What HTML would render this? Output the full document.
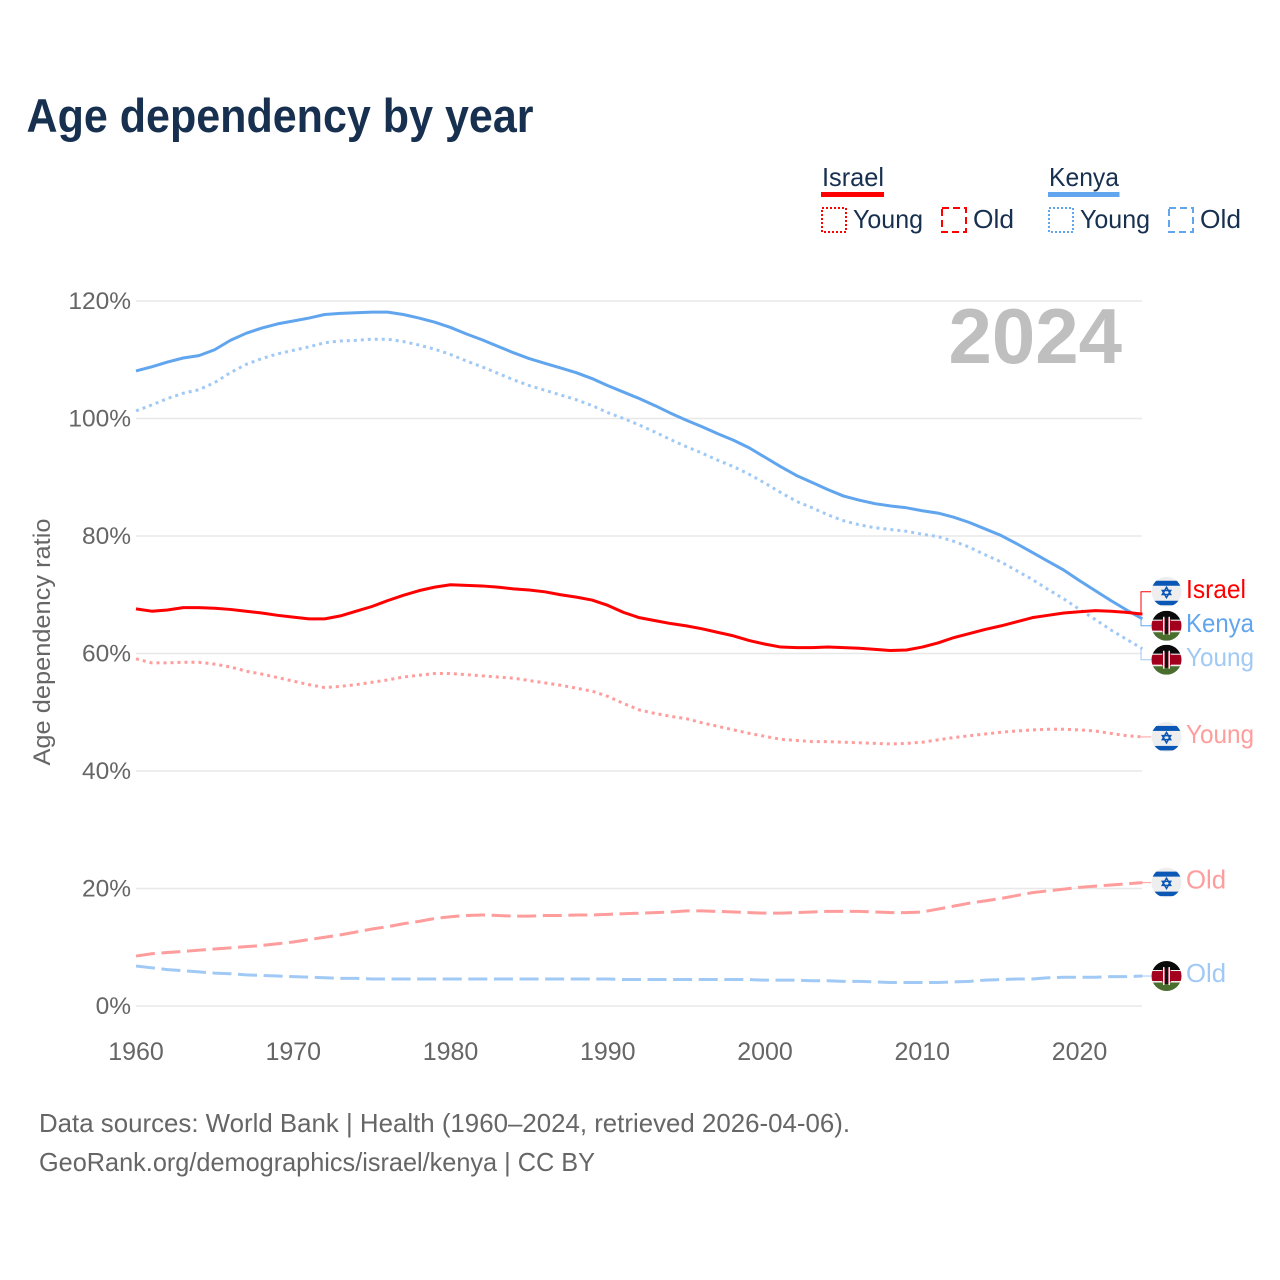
<!DOCTYPE html>
<html lang="en">
<head>
<meta charset="utf-8">
<title>Age dependency by year</title>
<style>
html,body{margin:0;padding:0;background:#fff}
svg{display:block}
text{font-family:"Liberation Sans",sans-serif}
</style>
</head>
<body>
<svg id="chart" xmlns="http://www.w3.org/2000/svg" width="1280" height="1280" viewBox="0 0 1280 1280">
  <rect width="1280" height="1280" fill="#fff"/>
  <text x="26.5" y="132" font-size="47" font-weight="700" fill="#17304f" textLength="507" lengthAdjust="spacingAndGlyphs">Age dependency by year</text>

  <g font-size="26" fill="#17304f">
    <text x="822" y="186" textLength="62" lengthAdjust="spacingAndGlyphs">Israel</text>
    <rect x="821" y="192" width="63" height="5" fill="#ff0000"/>
    <rect x="822" y="208" width="24" height="24" fill="none" stroke="#ff0000" stroke-width="2" stroke-dasharray="2 2"/>
    <text x="853" y="228" textLength="70" lengthAdjust="spacingAndGlyphs">Young</text>
    <rect x="942" y="208" width="24" height="24" fill="none" stroke="#ff0000" stroke-width="2" stroke-dasharray="7 4"/>
    <text x="973" y="228" textLength="41" lengthAdjust="spacingAndGlyphs">Old</text>

    <text x="1049" y="186" textLength="70" lengthAdjust="spacingAndGlyphs">Kenya</text>
    <rect x="1048" y="192" width="71.500" height="5" fill="#60a5ee"/>
    <rect x="1049" y="208" width="24" height="24" fill="none" stroke="#60a5ee" stroke-width="2" stroke-dasharray="2 2"/>
    <text x="1080" y="228" textLength="70" lengthAdjust="spacingAndGlyphs">Young</text>
    <rect x="1169" y="208" width="24" height="24" fill="none" stroke="#60a5ee" stroke-width="2" stroke-dasharray="7 4"/>
    <text x="1200" y="228" textLength="41" lengthAdjust="spacingAndGlyphs">Old</text>
  </g>

  <g id="grid"></g>
  <g id="y-ticks"></g>
  <g id="x-ticks"></g>

  <text x="0" y="0" transform="translate(50,642) rotate(-90)" text-anchor="middle" font-size="24" fill="#666" textLength="247" lengthAdjust="spacingAndGlyphs">Age dependency ratio</text>

  <text x="1122" y="363" text-anchor="end" font-size="78" font-weight="700" fill="#bfbfbf">2024</text>

  <g id="lines"></g>
  <g id="end-labels"></g>

  <g font-size="26" fill="#666">
    <text x="39" y="1132" textLength="811" lengthAdjust="spacingAndGlyphs">Data sources: World Bank | Health (1960–2024, retrieved 2026-04-06).</text>
    <text x="39" y="1171" textLength="556" lengthAdjust="spacingAndGlyphs">GeoRank.org/demographics/israel/kenya | CC BY</text>
  </g>
</svg>

<script>
const startYear = 1960;
const xTickYears = [1960, 1970, 1980, 1990, 2000, 2010, 2020];
const yTickValues = [0, 20, 40, 60, 80, 100, 120];
const yTickLabels = ["0%", "20%", "40%", "60%", "80%", "100%", "120%"];

const israelTotal = [
  67.6, 67.2, 67.4, 67.8, 67.8, 67.7, 67.5, 67.2, 66.9, 66.5,
  66.2, 65.9, 65.9, 66.4, 67.2, 68.0, 69.0, 69.9, 70.7, 71.3,
  71.7, 71.6, 71.5, 71.3, 71.0, 70.8, 70.5, 70.0, 69.6, 69.1,
  68.2, 67.0, 66.1, 65.6, 65.1, 64.7, 64.2, 63.6, 63.0, 62.2,
  61.6, 61.1, 61.0, 61.0, 61.1, 61.0, 60.9, 60.7, 60.5, 60.6,
  61.1, 61.8, 62.7, 63.4, 64.1, 64.7, 65.4, 66.1, 66.5, 66.9,
  67.1, 67.3, 67.2, 67.0, 66.7
];
const israelYoung = [
  59.1, 58.4, 58.4, 58.5, 58.5, 58.2, 57.7, 57.0, 56.5, 55.9,
  55.3, 54.7, 54.2, 54.4, 54.7, 55.1, 55.5, 56.0, 56.3, 56.6,
  56.6, 56.4, 56.2, 56.0, 55.8, 55.4, 55.0, 54.6, 54.1, 53.6,
  52.7, 51.5, 50.4, 49.8, 49.3, 48.9, 48.2, 47.6, 47.0, 46.4,
  45.9, 45.4, 45.2, 45.0, 45.0, 44.9, 44.8, 44.7, 44.6, 44.7,
  44.9, 45.3, 45.7, 46.0, 46.3, 46.6, 46.8, 47.0, 47.1, 47.1,
  47.0, 46.8, 46.4, 46.0, 45.8
];
const israelOld = [
  8.5, 8.9, 9.1, 9.3, 9.5, 9.7, 9.9, 10.1, 10.3, 10.6,
  10.9, 11.3, 11.7, 12.1, 12.6, 13.1, 13.5, 14.0, 14.4, 14.9,
  15.2, 15.4, 15.5, 15.4, 15.3, 15.3, 15.4, 15.4, 15.5, 15.5,
  15.6, 15.7, 15.8, 15.9, 16.0, 16.2, 16.2, 16.1, 16.0, 15.9,
  15.8, 15.8, 15.9, 16.0, 16.1, 16.1, 16.1, 16.0, 15.9, 15.9,
  16.0, 16.5, 17.0, 17.5, 17.9, 18.3, 18.8, 19.3, 19.6, 19.9,
  20.2, 20.4, 20.6, 20.8, 21.0
];
const kenyaTotal = [
  108.1, 108.8, 109.6, 110.3, 110.7, 111.7, 113.3, 114.5, 115.4, 116.1,
  116.6, 117.1, 117.7, 117.9, 118.0, 118.1, 118.1, 117.7, 117.1, 116.4,
  115.5, 114.4, 113.4, 112.3, 111.2, 110.2, 109.4, 108.6, 107.8, 106.8,
  105.6, 104.5, 103.4, 102.2, 100.9, 99.7, 98.6, 97.4, 96.3, 95.0,
  93.4, 91.8, 90.3, 89.1, 87.9, 86.8, 86.1, 85.5, 85.1, 84.8,
  84.3, 83.9, 83.2, 82.3, 81.2, 80.1, 78.7, 77.2, 75.7, 74.2,
  72.4, 70.7, 69.0, 67.4, 65.9
];
const kenyaYoung = [
  101.3, 102.3, 103.4, 104.3, 104.9, 106.1, 107.8, 109.2, 110.2, 111.0,
  111.6, 112.2, 112.9, 113.2, 113.3, 113.5, 113.5, 113.1, 112.5, 111.8,
  110.9, 109.8, 108.8, 107.7, 106.6, 105.6, 104.8, 104.0, 103.2, 102.2,
  101.0, 100.0, 98.9, 97.7, 96.4, 95.2, 94.1, 92.9, 91.8, 90.5,
  89.0, 87.4, 85.9, 84.8, 83.6, 82.6, 81.9, 81.4, 81.1, 80.8,
  80.3, 79.9, 79.1, 78.1, 76.8, 75.6, 74.1, 72.6, 70.9, 69.3,
  67.5, 65.8, 64.0, 62.4, 60.8
];
const kenyaOld = [
  6.8, 6.5, 6.2, 6.0, 5.8, 5.6, 5.5, 5.3, 5.2, 5.1,
  5.0, 4.9, 4.8, 4.7, 4.7, 4.6, 4.6, 4.6, 4.6, 4.6,
  4.6, 4.6, 4.6, 4.6, 4.6, 4.6, 4.6, 4.6, 4.6, 4.6,
  4.6, 4.5, 4.5, 4.5, 4.5, 4.5, 4.5, 4.5, 4.5, 4.5,
  4.4, 4.4, 4.4, 4.3, 4.3, 4.2, 4.2, 4.1, 4.0, 4.0,
  4.0, 4.0, 4.1, 4.2, 4.4, 4.5, 4.6, 4.6, 4.8, 4.9,
  4.9, 4.9, 5.0, 5.0, 5.1
];

const NS = "http://www.w3.org/2000/svg";
const X0 = 136, PER_YEAR = 15.725, Y0 = 1006, PER_PCT = 5.875, X_END = 1142;
const xScale = year => X0 + (year - startYear) * PER_YEAR;
const yScale = value => Y0 - value * PER_PCT;

function make(tag, attrs, parent) {
  const el = document.createElementNS(NS, tag);
  for (const k in attrs) el.setAttribute(k, attrs[k]);
  parent.appendChild(el);
  return el;
}

const grid = document.getElementById("grid");
const yTicks = document.getElementById("y-ticks");
const xTicks = document.getElementById("x-ticks");
const linesLayer = document.getElementById("lines");
const labelsLayer = document.getElementById("end-labels");

yTickValues.forEach((value, i) => {
  const line = make("line", {x1: X0, x2: X_END, y1: yScale(value), y2: yScale(value), stroke: "#e8e8e8", "stroke-width": 1.5}, grid);
  
  
  const t = make("text", {x: 131, y: yScale(value) + 8, "text-anchor": "end", "font-size": 24.5, fill: "#666"}, yTicks);
  t.textContent = yTickLabels[i];
  
  
});

xTickYears.forEach(year => {
  const t = make("text", {x: xScale(year), y: 1060, "text-anchor": "middle", "font-size": 25, fill: "#666"}, xTicks);
  t.textContent = year;
  
  
});

const seriesList = [
  {key: "israel-old", values: israelOld, color: "#ff9c9c", dash: "19 6.6", label: "Old", flag: "israel", labelColor: "#ff9c9c"},
  {key: "kenya-old", values: kenyaOld, color: "#a1c9f5", dash: "19 6.6", label: "Old", flag: "kenya", labelColor: "#a1c9f5"},
  {key: "israel-young", values: israelYoung, color: "#ff9c9c", dash: "3 4", label: "Young", flag: "israel", labelColor: "#ff9c9c"},
  {key: "kenya-young", values: kenyaYoung, color: "#a1c9f5", dash: "3 4", label: "Young", flag: "kenya", labelColor: "#a1c9f5"},
  {key: "kenya-total", values: kenyaTotal, color: "#60a5ee", dash: "", label: "Kenya", flag: "kenya", labelColor: "#60a5ee"},
  {key: "israel-total", values: israelTotal, color: "#ff0000", dash: "", label: "Israel", flag: "israel", labelColor: "#ff0000"}
];

seriesList.forEach(s => {
  const d = s.values.map((v, i) => (i ? "L" : "M") + xScale(startYear + i).toFixed(2) + " " + yScale(v).toFixed(2)).join(" ");
  const p = make("path", {d: d, fill: "none", stroke: s.color, "stroke-width": 3, "stroke-linejoin": "round"}, linesLayer);
  if (s.dash) p.setAttribute("stroke-dasharray", s.dash);
  
  
});

/* end labels: push overlapping labels apart, keeping each cluster centred */
const GAP = 34;
const placed = seriesList.map(s => ({s: s, raw: yScale(s.values[s.values.length - 1])})).sort((a, b) => a.raw - b.raw);
let clusters = placed.map(p => ({items: [p], center: p.raw}));
let merged = true;
while (merged) {
  merged = false;
  for (let i = 0; i < clusters.length - 1; i++) {
    const a = clusters[i], b = clusters[i + 1];
    const aEnd = a.center + (a.items.length - 1) * GAP / 2;
    const bStart = b.center - (b.items.length - 1) * GAP / 2;
    if (bStart - aEnd < GAP) {
      const items = a.items.concat(b.items);
      const center = items.reduce((m, p) => m + p.raw, 0) / items.length;
      clusters.splice(i, 2, {items: items, center: center});
      merged = true;
      break;
    }
  }
}
clusters.forEach(c => c.items.forEach((p, i) => {
  p.y = c.items.length > 1 ? c.center + (i - (c.items.length - 1) / 2) * GAP - 1.5 : c.center;
}));

function drawFlag(parent, country, cx, cy, idx) {
  const clipId = "flag-clip-" + idx;
  const cp = make("clipPath", {id: clipId}, parent);
  make("circle", {cx: cx, cy: cy, r: 15}, cp);
  const g = make("g", {"clip-path": "url(#" + clipId + ")"}, parent);
  
  
  if (country === "israel") {
    make("rect", {x: cx - 15, y: cy - 15, width: 30, height: 30, fill: "#eeeeee"}, g);
    make("rect", {x: cx - 15, y: cy - 11, width: 30, height: 5, fill: "#0b57b5"}, g);
    make("rect", {x: cx - 15, y: cy + 9, width: 30, height: 4.5, fill: "#0b57b5"}, g);
    make("polygon", {points: [cx, cy - 4.5, cx + 4.2, cy + 2.7, cx - 4.2, cy + 2.7].join(" "), fill: "none", stroke: "#0b57b5", "stroke-width": 1.5}, g);
    make("polygon", {points: [cx, cy + 5.9, cx + 4.2, cy - 1.3, cx - 4.2, cy - 1.3].join(" "), fill: "none", stroke: "#0b57b5", "stroke-width": 1.5}, g);
  } else {
    make("rect", {x: cx - 15, y: cy - 15, width: 30, height: 9, fill: "#0a0a0a"}, g);
    make("rect", {x: cx - 15, y: cy - 6, width: 30, height: 12, fill: "#eeeeee"}, g);
    make("rect", {x: cx - 15, y: cy - 5, width: 30, height: 10, fill: "#a2001d"}, g);
    make("rect", {x: cx - 15, y: cy + 6, width: 30, height: 9, fill: "#496e2d"}, g);
    make("rect", {x: cx - 15, y: cy + 5, width: 30, height: 1.500, fill: "#eeeeee"}, g);
    make("rect", {x: cx - 5, y: cy - 8, width: 10, height: 16, rx: 5, fill: "#a2001d"}, g);
    make("rect", {x: cx - 1.500, y: cy - 8, width: 3, height: 16, fill: "#111"}, g);
    make("rect", {x: cx - 3.500, y: cy - 9, width: 1.500, height: 18, fill: "#eeeeee"}, g);
    make("rect", {x: cx + 2, y: cy - 9, width: 1.500, height: 18, fill: "#eeeeee"}, g);
  }
}

placed.forEach((p, idx) => {
  const s = p.s;
  const cx = 1166.5;
  const conn = make("path", {
    d: "M" + (X_END - 1) + " " + p.raw.toFixed(2) + " L" + (X_END - 1) + " " + p.y.toFixed(2) + " L1151 " + p.y.toFixed(2),
    fill: "none", stroke: s.color, "stroke-width": 1
  }, labelsLayer);
  
  
  drawFlag(labelsLayer, s.flag, cx, p.y, idx);
  const t = make("text", {x: 1186, y: p.y + 6, "font-size": 26, fill: s.labelColor}, labelsLayer);
  t.textContent = s.label;
  t.setAttribute("textLength", s.label === "Old" ? 40 : (s.label === "Israel" ? 60 : 68));
  t.setAttribute("lengthAdjust", "spacingAndGlyphs");
  
  
});
</script>
</body>
</html>
